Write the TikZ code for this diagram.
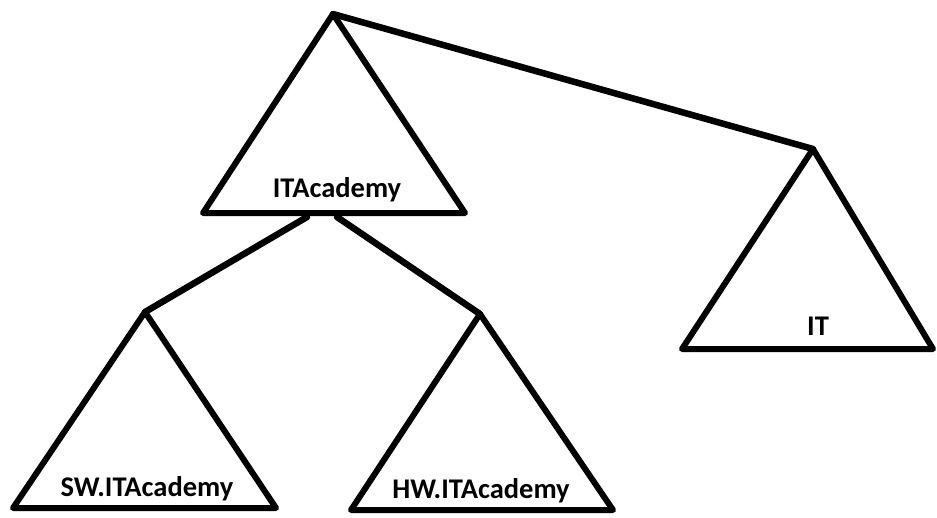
\documentclass[tikz,border=0pt]{standalone}
\usepackage{fontspec}
\setmainfont{Carlito}
\usetikzlibrary{positioning}

\begin{document}
\begin{tikzpicture}[x=1pt, y=-1pt,
	tri/.style={draw, line width=6pt, line join=round},
	edge/.style={draw, line width=6.5pt, line cap=round},
	lbl/.style={font=\fontsize{28.5}{32}\selectfont\bfseries, inner sep=0pt}]
	\useasboundingbox (0,0) rectangle (937,517);
	\coordinate (a0) at (333,14);
	\coordinate (l0) at (203,213);
	\coordinate (r0) at (465,213);
	\coordinate (a1) at (813,149);
	\coordinate (l1) at (682,349);
	\coordinate (r1) at (933,349);
	\coordinate (a2) at (145,312);
	\coordinate (l2) at (13,508);
	\coordinate (r2) at (276,508);
	\coordinate (a3) at (480,314);
	\coordinate (l3) at (351,510);
	\coordinate (r3) at (613,510);
	\coordinate (s0) at (307,217);
	\coordinate (h0) at (337,217);
	\draw[tri] (a0)--(l0)--(r0)--cycle;
	\draw[tri] (a1)--(l1)--(r1)--cycle;
	\draw[tri] (a2)--(l2)--(r2)--cycle;
	\draw[tri] (a3)--(l3)--(r3)--cycle;
	\node [lbl] (0) at (337,190) {ITAcademy};
	\node [lbl] (1) at (818,326) {IT};
	\node [lbl] (2) at (147,489) {SW.ITAcademy};
	\node [lbl] (3) at (481,491) {HW.ITAcademy};
	\draw[edge] (a0) to (a1);
	\draw[edge] (s0) to (a2);
	\draw[edge] (h0) to (a3);
\end{tikzpicture}
\end{document}
